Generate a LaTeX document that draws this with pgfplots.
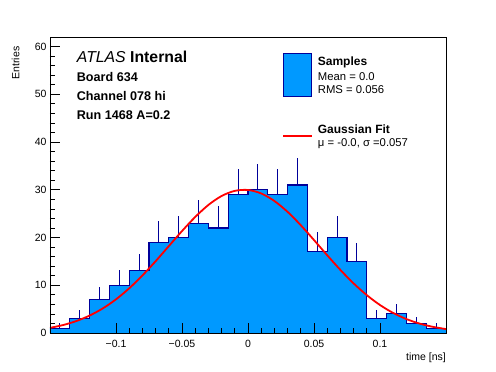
\documentclass[border=0pt]{standalone}
\usepackage{fontspec}
\setmainfont{Liberation Sans}
\usepackage{pgfplots}
\pgfplotsset{compat=1.18}
\definecolor{histfill}{RGB}{0,153,255}
\definecolor{histline}{RGB}{0,0,153}
\definecolor{fitred}{RGB}{255,0,0}
\begin{document}
\begin{tikzpicture}
\useasboundingbox (-50bp,-39bp) rectangle (446bp,333bp);
\begin{axis}[
  scale only axis, width=396bp, height=296bp,
  at={(0,0)}, anchor=south west,
  xmin=-0.15, xmax=0.15, ymin=0, ymax=62,
  axis on top,
  tick align=inside, xtick pos=bottom, ytick pos=left,
  xtick={-0.1,-0.05,0,0.05,0.1},
  xticklabels={−0.1,−0.05,0,0.05,0.1},
  scaled x ticks=false,
  ytick={0,10,20,30,40,50,60},
  minor x tick num=4, minor y tick num=4,
  major tick length=10bp, minor tick length=5bp,
  tick style={black, line width=0.7bp},
  axis line style={line width=0.8bp},
  /pgf/number format/assume math mode=true,
  ticklabel style={font=\fontsize{10.5bp}{12bp}\selectfont},
  xticklabel style={yshift=-3.5bp},
  xlabel={time [ns]}, ylabel={Entries},
  xlabel style={at={(axis description cs:1,-0.065)}, anchor=north east, inner sep=0pt, font=\fontsize{10.5bp}{12bp}\selectfont},
  ylabel style={at={(axis description cs:-0.097,0.968)}, anchor=north east, inner sep=0pt, font=\fontsize{10.5bp}{12bp}\selectfont},
]
% histogram fill
\addplot[const plot, fill=histfill, draw=none] coordinates {
(-0.150,1) (-0.135,3) (-0.120,7) (-0.105,10) (-0.090,13) (-0.075,19) (-0.060,20) (-0.045,23) (-0.030,22) (-0.015,29)
(0.000,30) (0.015,29) (0.030,31) (0.045,17) (0.060,20) (0.075,15) (0.090,3) (0.105,4) (0.120,2) (0.135,1) (0.150,1)
} \closedcycle;
% histogram outline
\addplot[const plot, draw=histline, line width=1.1bp] coordinates {
(-0.150,1) (-0.135,3) (-0.120,7) (-0.105,10) (-0.090,13) (-0.075,19) (-0.060,20) (-0.045,23) (-0.030,22) (-0.015,29)
(0.000,30) (0.015,29) (0.030,31) (0.045,17) (0.060,20) (0.075,15) (0.090,3) (0.105,4) (0.120,2) (0.135,1) (0.150,1)
};
% error bars (upper half visible)
\addplot[draw=none, mark=none, error bars/.cd, y dir=plus, y explicit, error mark=none,
  error bar style={draw=histline, line width=1bp}] coordinates {
(-0.1425,1) +- (0,1)
(-0.1275,3) +- (0,1.732)
(-0.1125,7) +- (0,2.646)
(-0.0975,10) +- (0,3.162)
(-0.0825,13) +- (0,3.606)
(-0.0675,19) +- (0,4.359)
(-0.0525,20) +- (0,4.472)
(-0.0375,23) +- (0,4.796)
(-0.0225,22) +- (0,4.690)
(-0.0075,29) +- (0,5.385)
(0.0075,30) +- (0,5.477)
(0.0225,29) +- (0,5.385)
(0.0375,31) +- (0,5.568)
(0.0525,17) +- (0,4.123)
(0.0675,20) +- (0,4.472)
(0.0825,15) +- (0,3.873)
(0.0975,3) +- (0,1.732)
(0.1125,4) +- (0,2)
(0.1275,2) +- (0,1.414)
(0.1425,1) +- (0,1)
};
% Gaussian fit
\addplot[fitred, line width=1.8bp, smooth, mark=none] coordinates {
(-0.15,1.08) (-0.14,1.67) (-0.13,2.51) (-0.12,3.65) (-0.11,5.15) (-0.10,7.05) (-0.09,9.36) (-0.08,12.05)
(-0.07,15.03) (-0.06,18.20) (-0.05,21.35) (-0.04,24.30) (-0.03,26.82) (-0.02,28.70) (-0.01,29.77) (0.00,29.96)
(0.01,29.23) (0.02,27.65) (0.03,25.37) (0.04,22.57) (0.05,19.47) (0.06,16.29) (0.07,13.21) (0.08,10.39)
(0.09,7.93) (0.10,5.86) (0.11,4.20) (0.12,2.92) (0.13,1.97) (0.14,1.29) (0.15,0.82)
};
\end{axis}
% ATLAS label block
\node[anchor=base west, inner sep=0pt, font=\fontsize{15.8bp}{18bp}\selectfont] at (26.7bp,270.7bp) {\textit{ATLAS} \textbf{Internal}};
\node[anchor=base west, inner sep=0pt, font=\fontsize{12.6bp}{14bp}\selectfont\bfseries] at (26.7bp,251.3bp) {Board 634};
\node[anchor=base west, inner sep=0pt, font=\fontsize{12.6bp}{14bp}\selectfont\bfseries] at (26.7bp,232.3bp) {Channel 078 hi};
\node[anchor=base west, inner sep=0pt, font=\fontsize{12.6bp}{14bp}\selectfont\bfseries] at (26.7bp,213.8bp) {Run 1468 A=0.2};
% legend
\filldraw[fill=histfill, draw=histline, line width=0.9bp] (233.3bp,236.3bp) rectangle (261.7bp,279.7bp);
\node[anchor=base west, inner sep=0pt, font=\fontsize{12bp}{14bp}\selectfont\bfseries] at (267.7bp,267bp) {Samples};
\node[anchor=base west, inner sep=0pt, font=\fontsize{11.3bp}{13bp}\selectfont] at (267.7bp,252.3bp) {Mean = 0.0};
\node[anchor=base west, inner sep=0pt, font=\fontsize{11.3bp}{13bp}\selectfont] at (267.7bp,239bp) {RMS = 0.056};
\draw[fitred, line width=1.8bp] (233.3bp,197bp) -- (261.7bp,197bp);
\node[anchor=base west, inner sep=0pt, font=\fontsize{12bp}{14bp}\selectfont\bfseries] at (267.7bp,199.7bp) {Gaussian Fit};
\node[anchor=base west, inner sep=0pt, font=\fontsize{11.3bp}{13bp}\selectfont] at (267.7bp,186.3bp) {μ = -0.0, σ =0.057};
\end{tikzpicture}
\end{document}
